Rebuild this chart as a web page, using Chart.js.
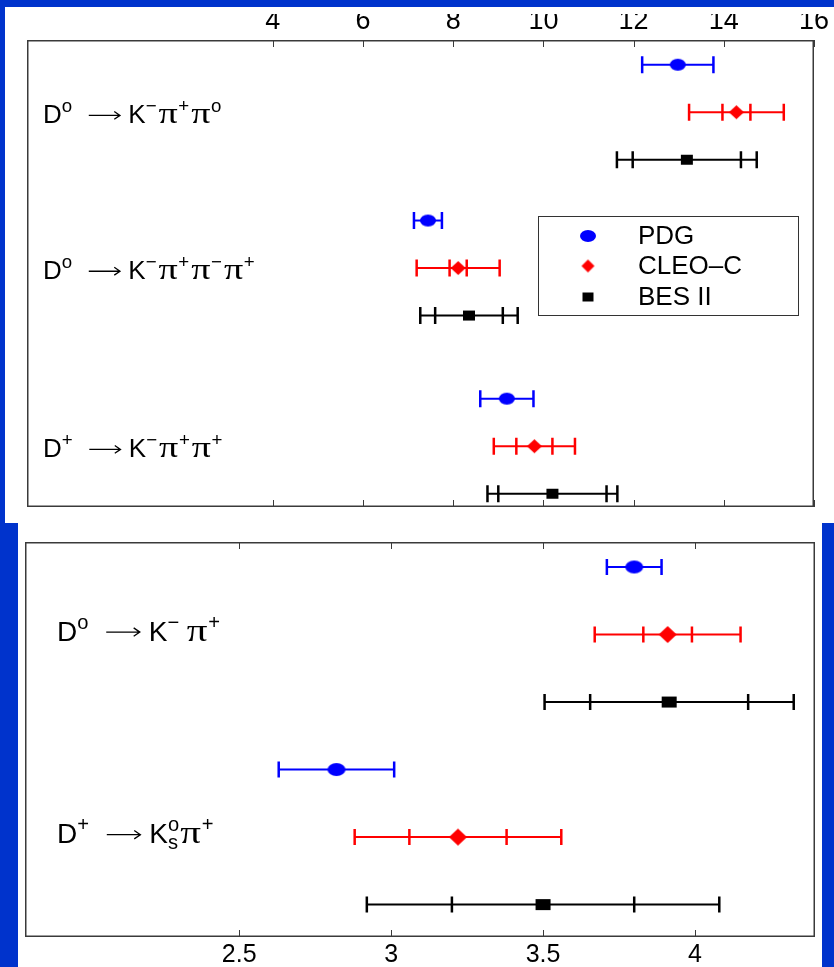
<!DOCTYPE html>
<html>
<head>
<meta charset="utf-8">
<script src="https://cdn.jsdelivr.net/npm/chart.js@4.4.0/dist/chart.umd.min.js"></script>
<style>
  html, body { margin: 0; padding: 0; width: 834px; height: 967px; overflow: hidden; background: #0033cc; position: relative; }
  .panel { position: absolute; background: #fff; }
  #topPanel { left: 5px; top: 7px; width: 829px; height: 516px; }
  #botPanel { left: 18px; top: 523px; width: 804px; height: 444px; }
  canvas { display: block; }
</style>
</head>
<body>
<div class="panel" id="topPanel"><canvas id="topChart" width="829" height="516"></canvas></div>
<div class="panel" id="botPanel"><canvas id="botChart" width="804" height="444"></canvas></div>
<script>
// ---- data (branching fractions, %) ----
const seriesNames = ['PDG', 'CLEO\u2013C', 'BES II'];
const seriesColors = ['#0000ff', '#ff0000', '#000000'];

// top panel: D0->K-pi+pi0, D0->K-pi+pi-pi+, D+->K-pi+pi+
const topTicks = [4, 6, 8, 10, 12, 14, 16];
const pdgTop = [12.98, 7.44, 9.19];
const pdgTopErr = [0.79, 0.31, 0.59];
const cleoTop = [14.28, 8.11, 9.80];
const cleoTopStat = [0.31, 0.19, 0.40];
const cleoTopErr = [1.05, 0.92, 0.90];
const besTop = [13.18, 8.35, 10.20];
const besTopStat = [1.20, 0.75, 1.20];
const besTopErr = [1.55, 1.08, 1.44];

// bottom panel: D0->K-pi+, D+->Ks pi+
const botTicks = [2.5, 3, 3.5, 4];
const pdgBot = [3.80, 2.82];
const pdgBotErr = [0.09, 0.19];
const cleoBot = [3.91, 3.22];
const cleoBotStat = [0.08, 0.16];
const cleoBotErr = [0.24, 0.34];
const besBot = [3.915, 3.50];
const besBotStat = [0.26, 0.30];
const besBotErr = [0.41, 0.58];

// decay labels, split into [text, kind] pieces for super/subscripts
const topLabels = [
  [['D'], ['o', 'sup'], ['', 'arrow'], ['K'], ['\u2212', 'sup'], ['\u03c0', 'pi'], ['+', 'sup'], ['\u03c0', 'pi'], ['o', 'sup']],
  [['D'], ['o', 'sup'], ['', 'arrow'], ['K'], ['\u2212', 'sup'], ['\u03c0', 'pi'], ['+', 'sup'], ['\u03c0', 'pi'], ['\u2212', 'sup'], ['\u03c0', 'pi'], ['+', 'sup']],
  [['D'], ['+', 'sup'], ['', 'arrow'], ['K'], ['\u2212', 'sup'], ['\u03c0', 'pi'], ['+', 'sup'], ['\u03c0', 'pi'], ['+', 'sup']]
];
const botLabels = [
  [['D'], ['o', 'sup'], ['', 'arrow'], ['K'], ['\u2212 ', 'sup'], ['\u03c0', 'pi'], ['+', 'sup']],
  [['D'], ['+', 'sup'], ['', 'arrow'], ['K'], ['o|s', 'supsub'], ['\u03c0', 'pi'], ['+', 'sup']]
];

// ---- layout ----
const topRows = [1.52, 4.80, 8.55];   // group centres on the hidden y scale
const topYMax = 9.83;
const botRows = [1.37, 4.37];
const botYMax = 5.85;

const SANS = '"Liberation Sans", Arial, sans-serif';
const SERIF = '"Liberation Serif", serif';

function marker(shape, w, h, color) {
  const c = document.createElement('canvas');
  c.width = w + 2; c.height = h + 2;
  const g = c.getContext('2d');
  const cx = c.width / 2, cy = c.height / 2;
  g.fillStyle = color;
  g.beginPath();
  if (shape === 'ellipse') g.ellipse(cx, cy, w / 2, h / 2, 0, 0, Math.PI * 2);
  else if (shape === 'diamond') { g.moveTo(cx, cy - h / 2); g.lineTo(cx + w / 2, cy); g.lineTo(cx, cy + h / 2); g.lineTo(cx - w / 2, cy); g.closePath(); }
  else g.rect(cx - w / 2, cy - h / 2, w, h);
  g.fill();
  return c;
}

function drawRich(ctx, x, y, parts, size) {
  ctx.fillStyle = '#000';
  ctx.strokeStyle = '#000';
  ctx.textBaseline = 'alphabetic';
  ctx.textAlign = 'left';
  const supFont = `${size * 0.72}px ${SANS}`;
  parts.forEach(([txt, kind]) => {
    if (kind === 'arrow') {
      const x0 = x + size * 0.6, x1 = x0 + size * 1.2, ay = y - size * 0.3;
      ctx.lineWidth = 1.3;
      ctx.beginPath();
      ctx.moveTo(x0, ay); ctx.lineTo(x1, ay);
      ctx.moveTo(x1 - size * 0.22, ay - size * 0.15); ctx.lineTo(x1, ay); ctx.lineTo(x1 - size * 0.22, ay + size * 0.15);
      ctx.stroke();
      x = x1 + size * 0.32;
      return;
    }
    if (kind === 'supsub') {
      const [sup, sub] = txt.split('|');
      ctx.font = supFont;
      ctx.fillText(sup, x, y - size * 0.42);
      ctx.fillText(sub, x, y + size * 0.22);
      x += Math.max(ctx.measureText(sup).width, ctx.measureText(sub).width);
      return;
    }
    if (kind === 'pi') {
      ctx.font = `${size * 1.15}px ${SERIF}`;
      const w = ctx.measureText(txt).width;
      const sx = (size * 0.74) / w;
      ctx.save();
      ctx.translate(x + 1, y);
      ctx.scale(sx, 1);
      ctx.fillText(txt, 0, 0);
      ctx.restore();
      x += size * 0.8;
      return;
    }
    let dy = 0;
    if (kind === 'sup') { ctx.font = supFont; dy = -size * 0.42; }
    else ctx.font = `${size}px ${SANS}`;
    ctx.fillText(txt, x, y + dy);
    x += ctx.measureText(txt).width + (kind === 'sup' ? 1 : 0);
  });
}

// error bars: total error with end caps, plus inner caps for the statistical part
const errorBars = {
  id: 'errorBars',
  beforeDatasetsDraw(chart) {
    const { ctx, scales: { x, y } } = chart;
    const capH = chart.options.plugins.errorBars.cap;
    ctx.save();
    chart.data.datasets.forEach(ds => {
      ctx.strokeStyle = ds.borderColor;
      ds.data.forEach((p, i) => {
        const py = y.getPixelForValue(p.y);
        const lo = x.getPixelForValue(p.x - ds.err[i]);
        const hi = x.getPixelForValue(p.x + ds.err[i]);
        ctx.lineWidth = 2;
        ctx.beginPath(); ctx.moveTo(lo, py); ctx.lineTo(hi, py); ctx.stroke();
        const caps = [lo, hi];
        if (ds.stat) caps.push(x.getPixelForValue(p.x - ds.stat[i]), x.getPixelForValue(p.x + ds.stat[i]));
        ctx.lineWidth = 2.5;
        ctx.beginPath();
        caps.forEach(cx => { ctx.moveTo(cx, py - capH); ctx.lineTo(cx, py + capH); });
        ctx.stroke();
      });
    });
    ctx.restore();
  }
};

// box around the plot with inward ticks on both edges, and the decay labels
const frame = {
  id: 'frame',
  afterDraw(chart) {
    const { ctx, chartArea: a, scales: { x, y } } = chart;
    const opts = chart.options.plugins.frame;
    ctx.save();
    ctx.strokeStyle = '#3a3a3a';
    ctx.lineWidth = 1.5;
    ctx.strokeRect(a.left + 0.75, a.top + 0.75, a.right - a.left - 1.5, a.bottom - a.top - 1.5);
    ctx.lineWidth = 1;
    ctx.beginPath();
    x.ticks.forEach(t => {
      const px = Math.round(x.getPixelForValue(t.value)) + 0.5;
      ctx.moveTo(px, a.top); ctx.lineTo(px, a.top + 7);
      ctx.moveTo(px, a.bottom); ctx.lineTo(px, a.bottom - 7);
    });
    ctx.stroke();
    opts.labels.forEach((parts, i) => {
      const py = y.getPixelForValue(opts.rows[i]);
      drawRich(ctx, a.left + opts.labelX, py + opts.labelDy, parts, opts.size);
    });
    ctx.restore();
  }
};

const legendBox = {
  id: 'legendBox',
  afterDraw(chart) {
    const opts = chart.options.plugins.legendBox;
    if (!opts.show) return;
    const { ctx, chartArea: a } = chart;
    const left = a.right - 276, top = a.top + 176, w = 260, h = 99;
    ctx.save();
    ctx.fillStyle = '#fff';
    ctx.fillRect(left, top, w, h);
    ctx.strokeStyle = '#333';
    ctx.lineWidth = 1;
    ctx.strokeRect(left + 0.5, top + 0.5, w, h);
    ctx.font = `26px ${SANS}`;
    ctx.textBaseline = 'middle';
    ctx.fillStyle = '#000';
    const rowsY = [20, 50, 81];
    chart.data.datasets.forEach((ds, i) => {
      const m = opts.markers[i];
      ctx.drawImage(m, left + 50 - m.width / 2, top + rowsY[i] - m.height / 2);
      ctx.fillText(ds.label, left + 100, top + rowsY[i] + 1);
    });
    ctx.restore();
  }
};

function datasets(rows, vals, markers) {
  return seriesNames.map((name, s) => ({
    label: name,
    data: rows.map((r, i) => ({ x: vals[s][0][i], y: r + s - 1 })),
    err: vals[s][1],
    stat: vals[s][2],
    borderColor: seriesColors[s],
    backgroundColor: seriesColors[s],
    pointStyle: markers[s],
    pointRadius: 6,
    showLine: false
  }));
}

function makeChart(id, cfg) {
  return new Chart(document.getElementById(id), {
    type: 'scatter',
    data: { datasets: datasets(cfg.rows, cfg.vals, cfg.markers) },
    options: {
      responsive: false,
      animation: false,
      events: [],
      layout: { padding: cfg.padding },
      scales: {
        x: {
          type: 'linear',
          position: cfg.axisPos,
          min: cfg.xMin,
          max: cfg.xMax,
          afterBuildTicks: s => { s.ticks = cfg.ticks.map(v => ({ value: v })); },
          afterFit: s => { s.height = cfg.axisH; },
          grid: { display: false, drawTicks: false },
          border: { display: false },
          ticks: {
            color: '#000',
            font: { family: SANS, size: cfg.tickSize },
            padding: cfg.tickPad,
            maxRotation: 0,
            autoSkip: false,
            callback: v => String(v)
          }
        },
        y: { type: 'linear', display: false, reverse: true, min: 0, max: cfg.yMax }
      },
      plugins: {
        legend: { display: false },
        tooltip: { enabled: false },
        errorBars: { cap: cfg.cap },
        frame: { labels: cfg.labels, rows: cfg.rows, labelX: cfg.labelX, labelDy: cfg.labelDy, size: cfg.labelSize },
        legendBox: { show: cfg.legend, markers: cfg.legendMarkers }
      }
    },
    plugins: [errorBars, frame, legendBox]
  });
}

const topMarkers = [marker('ellipse', 16, 12, '#0000ff'), marker('diamond', 15, 14, '#ff0000'), marker('rect', 12, 10, '#000')];
const botMarkers = [marker('ellipse', 18, 13, '#0000ff'), marker('diamond', 18, 17, '#ff0000'), marker('rect', 15, 11, '#000')];
const legendMarkers = [marker('ellipse', 16, 12, '#0000ff'), marker('diamond', 13, 13, '#ff0000'), marker('rect', 11, 9, '#000')];

makeChart('topChart', {
  rows: topRows, yMax: topYMax,
  vals: [[pdgTop, pdgTopErr, null], [cleoTop, cleoTopErr, cleoTopStat], [besTop, besTopErr, besTopStat]],
  markers: topMarkers, legend: true, legendMarkers,
  padding: { left: 22, right: 20, top: 7, bottom: 16 },
  axisPos: 'top', axisH: 26, xMin: -1.45, xMax: 16, ticks: topTicks, tickSize: 27, tickPad: 2,
  cap: 8.5, labels: topLabels, labelX: 16, labelDy: 11, labelSize: 26
});

makeChart('botChart', {
  rows: botRows, yMax: botYMax,
  vals: [[pdgBot, pdgBotErr, null], [cleoBot, cleoBotErr, cleoBotStat], [besBot, besBotErr, besBotStat]],
  markers: botMarkers, legend: false, legendMarkers,
  padding: { left: 3, right: 4, top: 19, bottom: 0 },
  axisPos: 'bottom', axisH: 30, xMin: 1.795, xMax: 4.395, ticks: botTicks, tickSize: 25, tickPad: 3,
  cap: 8, labels: botLabels, labelX: 32, labelDy: 6, labelSize: 28
});
</script>
</body>
</html>
